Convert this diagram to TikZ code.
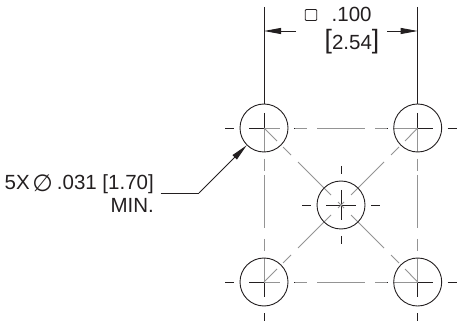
\documentclass[tikz,border=0pt]{standalone}
\usepackage{fontspec}
\setmainfont{Liberation Sans}
\newfontfamily\symfont{DejaVu Sans}
\usetikzlibrary{arrows.meta}
\definecolor{ink}{HTML}{231F20}
\definecolor{cgray}{HTML}{949494}
\tikzset{
  hole/.style={draw=ink,line width=0.9pt,circle,minimum size=48pt,inner sep=0pt},
  blk/.style={draw=ink,line width=0.9pt},
  gry/.style={draw=cgray,line width=0.9pt},
  tip/.style={-{Triangle[length=17pt,width=6pt,fill=ink]},draw=ink,line width=0.9pt},
  lab/.style={inner sep=0pt,text=ink,font=\fontsize{20.5}{20.5}\selectfont},
  lab2/.style={inner sep=0pt,text=ink,font=\fontsize{20.5}{20.5}\selectfont}
}
\newcommand{\centermarks}[2]{%
  \draw[blk] (#1-39,#2)--(#1-30,#2) (#1-15,#2)--(#1+15,#2) (#1+30,#2)--(#1+39,#2);
  \draw[blk] (#1,#2-39)--(#1,#2-31) (#1,#2-15)--(#1,#2+15) (#1,#2+31)--(#1,#2+39);
}
\newcommand{\tallbr}[1]{\raisebox{1.5pt}{\fontsize{26.5}{26.5}\selectfont #1}}
\begin{document}
\begin{tikzpicture}[x=1pt,y=-1pt]
\useasboundingbox (0,0) rectangle (465,328);
\def\xa{264}\def\xb{417.7}\def\xc{341}
\def\ya{128}\def\yb{282}\def\yc{205}
% centre marks
\centermarks{\xa}{\ya}\centermarks{\xb}{\ya}\centermarks{\xa}{\yb}\centermarks{\xb}{\yb}\centermarks{\xc}{\yc}
% horizontal gray centre lines
\foreach \y in {\ya,\yb}{
  \draw[gry] (\xa,\y)--(280,\y) (295,\y)--(307,\y) (317,\y)--(365,\y) (375,\y)--(387,\y) (393,\y)--(\xb,\y);
}
% vertical gray centre lines
\foreach \x in {\xa,\xb}{
  \draw[gry] (\x,\ya)--(\x,152) (\x,159)--(\x,171) (\x,175)--(\x,228) (\x,239)--(\x,251) (\x,258)--(\x,\yb);
}
% diagonals
\draw[gry] (\xa,\ya)--(277,141) (283,147)--(291,155) (298,162)--(331,195);
\draw[gry] (\xb,\ya)--(405,141) (399,147)--(391,155) (384,162)--(351,195);
\draw[gry] (\xa,\yb)--(277,269) (283,263)--(291,255) (298,248)--(331,215);
\draw[gry] (\xb,\yb)--(405,269) (399,263)--(391,255) (384,248)--(351,215);
\draw[gry] (\xc-3,\yc-3)--(\xc+3,\yc+3) (\xc-3,\yc+3)--(\xc+3,\yc-3);
% holes
\node[hole] (h1) at (\xa,\ya) {};
\node[hole] (h2) at (\xb,\ya) {};
\node[hole] (h3) at (\xc,\yc) {};
\node[hole] (h4) at (\xa,\yb) {};
\node[hole] (h5) at (\xb,\yb) {};
% extension lines
\coordinate (e1) at (\xa,7);
\coordinate (e2) at (\xb,7);
\draw[blk] (e1)--(\xa,104);
\draw[blk] (e2)--(\xb,104);
% dimension arrows
\coordinate (t1) at (296,31);
\coordinate (t2) at (387,31);
\draw[tip] (t1)--(\xa,31);
\draw[tip] (t2)--(\xb,31);
% labels
\node[draw=ink,line width=0.9pt,rounded corners=1pt,minimum width=11.5pt,minimum height=11pt,inner sep=0pt] (sq) at (311,15) {};
\node[lab,anchor=base west] (d1) at (331.5,22) {.100};
\node[lab,anchor=base] (d2) at (352,50) {\tallbr{[}2.54\tallbr{]}};
\node[lab2,anchor=base east] (n1) at (154,189.3) {.031 [1.70]};
\node[lab2,anchor=base west] (n0) at (4.5,189.3) {5X};
\node[lab2,anchor=base,font=\symfont\fontsize{23.5}{23.5}\selectfont] (phi) at (42.5,191.5) {∅};
\node[lab2,anchor=base east] (n2) at (154,212.7) {MIN.};
% leader
\coordinate (l0) at (160.5,193);
\coordinate (l1) at (199,193);
\draw[blk] (l0)--(l1);
\draw[tip] (l1)--(h1.225);
\end{tikzpicture}
\end{document}
